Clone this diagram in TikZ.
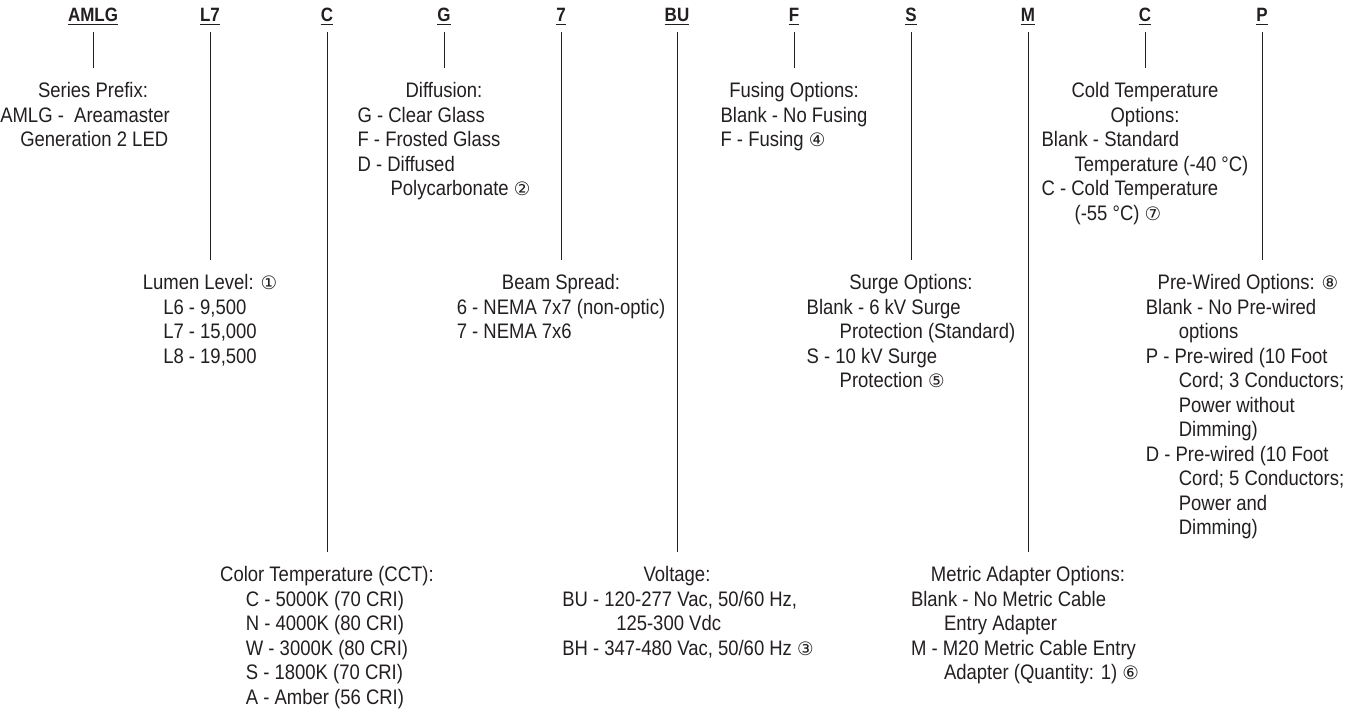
\documentclass[tikz,border=0pt]{standalone}
\usepackage{fontspec}
\setmainfont{Liberation Sans}[FakeStretch=0.88]
\newfontfamily\symfont{DejaVu Sans}
\newcommand{\cnum}[1]{{\symfont\fontsize{18.5}{18.5}\selectfont #1}}
\newcommand{\ind}{\hspace*{33pt}}
\newcommand{\fs}{\rule{0pt}{16pt}}
\definecolor{ink}{RGB}{35,31,32}
\tikzset{
  code/.style={font=\fontsize{19.3}{20}\selectfont\bfseries, inner sep=0pt, anchor=base, text=ink},
  head/.style={font=\fontsize{21}{24.5}\selectfont, inner sep=0pt, anchor=north, align=center, text=ink},
  items/.style={font=\fontsize{21}{24.5}\selectfont, inner sep=0pt, anchor=north, align=left, text=ink},
  stem/.style={line width=1pt, draw=ink},
  uline/.style={line width=1.3pt, draw=ink},
}
\begin{document}
\begin{tikzpicture}[x=1pt,y=-1pt]
\useasboundingbox (0,0) rectangle (1362,715);
% code letters
\foreach \n/\x/\t in {c1/93/AMLG, c2/210/L7, c3/327/C, c4/444/G, c5/561/7, c6/677/BU, c7/794/F, c8/911/S, c9/1028/M, c10/1145/C, c11/1262/P}{
  \node[code] (\n) at (\x,21) {\t};
  \draw[uline] ([yshift=-3.5pt]\n.base west) -- ([yshift=-3.5pt]\n.base east);
}
% headings (first baseline = top + 16)
\node[head] (h1) at (93,81.5) {\fs Series Prefix:};
\node[head] (h2) at (210,273.5) {\fs Lumen Level: \cnum{①}};
\node[head] (h3) at (327,565.5) {\fs Color Temperature (CCT):};
\node[head] (h4) at (444,81.5) {\fs Diffusion:};
\node[head] (h5) at (561,273.5) {\fs Beam Spread:};
\node[head] (h6) at (677,565.5) {\fs Voltage:};
\node[head] (h7) at (794,81.5) {\fs Fusing Options:};
\node[head] (h8) at (911,273.5) {\fs Surge Options:};
\node[head] (h9) at (1028,565.5) {\fs Metric Adapter Options:};
\node[head] (h10) at (1145,81.5) {\fs Cold Temperature\\Options:};
\node[head] (h11) at (1248,273.5) {\fs Pre-Wired Options: \cnum{⑧}};
% option lists
\node[items] (b1) at (85,106) {\fs AMLG - \ Areamaster\\\hspace*{20pt}Generation 2 LED};
\node[items] (b2) at (210,298) {\fs L6 - 9,500\\L7 - 15,000\\L8 - 19,500};
\node[items] (b3) at (327,590) {\fs C - 5000K (70 CRI)\\N - 4000K (80 CRI)\\W - 3000K (80 CRI)\\S - 1800K (70 CRI)\\A - Amber (56 CRI)};
\node[items] (b4) at (444,106) {\fs G - Clear Glass\\F - Frosted Glass\\D - Diffused\\\ind Polycarbonate \cnum{②}};
\node[items] (b5) at (561,298) {\fs 6 - NEMA 7x7 (non-optic)\\7 - NEMA 7x6};
\node[items] (b6) at (688,590) {\fs BU - 120-277 Vac, 50/60 Hz,\\\hspace*{54pt}125-300 Vdc\\BH - 347-480 Vac, 50/60 Hz \cnum{③}};
\node[items] (b7) at (794,106) {\fs Blank - No Fusing\\F - Fusing \cnum{④}};
\node[items] (b8) at (911,298) {\fs Blank - 6 kV Surge\\\ind Protection (Standard)\\S - 10 kV Surge\\\ind Protection \cnum{⑤}};
\node[items] (b9) at (1025,590) {\fs Blank - No Metric Cable\\\ind Entry Adapter\\M - M20 Metric Cable Entry\\\ind Adapter (Quantity: 1) \cnum{⑥}};
\node[items] (b10) at (1145,130.5) {\fs Blank - Standard\\\ind Temperature (-40 °C)\\C - Cold Temperature\\\ind (-55 °C) \cnum{⑦}};
\node[items] (b11) at (1245,298) {\fs Blank - No Pre-wired\\\ind options\\P - Pre-wired (10 Foot\\\ind Cord; 3 Conductors;\\\ind Power without\\\ind Dimming)\\D - Pre-wired (10 Foot\\\ind Cord; 5 Conductors;\\\ind Power and\\\ind Dimming)};
% stems from code letters down to their headings
\foreach \i in {1,...,11}{
  \path ([yshift=13.5pt]h\i.north) coordinate (e\i);
  \draw[stem] ([yshift=-11pt]c\i.base) -- (e\i -| c\i);
}
\end{tikzpicture}
\end{document}
